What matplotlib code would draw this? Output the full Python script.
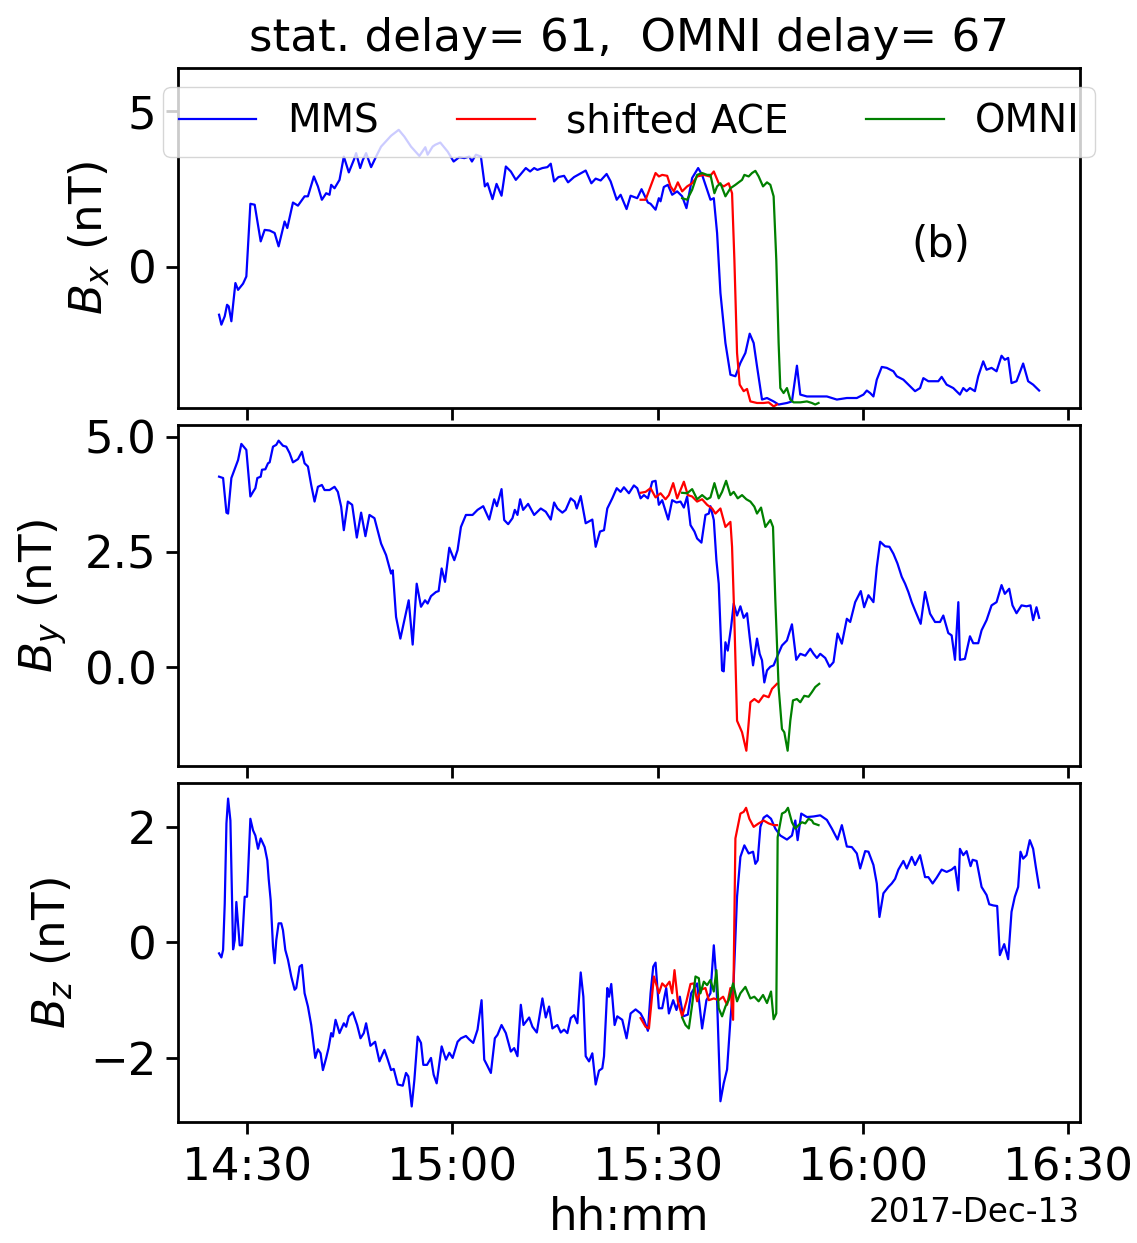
import matplotlib
matplotlib.use("Agg")
import matplotlib.pyplot as plt
import matplotlib.dates as mdates
import numpy as np
import pandas as pd

# ---------------- data (minutes after 14:00 UT, 2017-12-13) ----------------
mms_bx_t = [25.86,26.20,26.69,27.03,27.27,27.66,28.25,28.64,29.37,29.85,30.44,31.07,31.95,32.53,33.26,33.99,34.57,35.45,35.84,36.67,
            37.40,38.37,38.86,39.73,40.32,40.90,41.53,42.02,42.26,42.75,43.48,44.11,44.84,45.57,45.91,46.50,46.89,47.37,48.10,48.83,
            49.56,51.02,52.14,52.97,53.94,55.16,56.03,56.37,57.10,57.49,58.22,59.30,60.17,61.00,61.73,62.46,62.85,63.43,64.16,64.74,
            65.13,65.86,66.45,67.18,67.81,68.54,69.27,69.90,70.73,71.36,71.95,72.43,73.16,73.89,74.38,74.87,75.50,76.33,76.91,77.79,
            79.49,80.32,80.95,81.68,82.55,83.14,84.03,84.60,85.47,86.06,87.03,87.66,88.59,88.98,89.71,90.19,90.44,90.92,91.51,
            92.14,92.87,93.60,94.23,95.06,95.94,96.52,97.25,97.74,98.23,98.71,99.20,99.93,100.66,101.39,102.12,102.85,103.48,104.06,104.55,
            105.28,106.01,106.98,107.71,108.93,109.66,110.39,110.88,111.85,113.31,114.77,116.23,117.69,119.15,120.12,120.61,121.10,121.58,122.07,122.80,
            123.53,124.50,124.99,125.96,126.94,127.67,128.40,128.88,129.61,130.34,131.07,131.56,132.29,133.26,133.99,134.23,134.72,135.21,135.70,136.42,
            136.91,137.64,138.13,138.86,139.59,140.32,140.80,141.29,141.78,142.51,143.48,144.21,144.94,145.82]
mms_bx = [-1.55,-1.87,-1.60,-1.23,-1.28,-1.76,-0.53,-0.75,-0.55,-0.32,2.02,1.99,0.81,1.18,1.16,1.08,0.65,1.45,1.24,2.06,
          1.96,2.26,2.26,2.90,2.58,2.15,2.36,2.31,2.63,2.52,2.79,3.54,3.03,3.43,3.65,3.17,3.43,3.65,3.20,3.54,
          3.86,4.21,4.40,4.18,3.86,3.56,3.84,3.60,3.86,3.92,3.99,3.70,3.38,3.52,3.49,3.54,3.38,3.60,3.54,2.58,
          2.68,2.17,2.66,2.28,3.22,3.06,2.79,2.95,3.17,3.06,3.17,3.11,3.17,3.20,3.31,2.74,2.88,2.92,2.71,2.88,
          3.09,2.68,2.83,2.77,2.98,2.74,2.15,2.31,1.85,2.28,2.20,2.49,2.06,2.02,1.83,2.20,2.10,2.56,2.63,
          2.31,2.42,2.26,1.88,2.85,3.17,2.95,2.47,2.15,2.20,1.08,-0.85,-2.46,-3.48,-3.53,-3.10,-2.78,-2.16,-2.46,-3.21,
          -4.28,-4.23,-4.34,-4.44,-4.39,-4.34,-3.19,-4.12,-4.18,-4.18,-4.18,-4.28,-4.23,-4.23,-4.12,-3.99,-4.07,-4.18,-3.64,-3.23,
          -3.26,-3.37,-3.53,-3.64,-3.85,-4.01,-3.91,-3.59,-3.69,-3.69,-3.69,-3.55,-3.80,-3.91,-4.07,-4.12,-3.91,-4.01,-3.91,-4.01,
          -3.53,-3.05,-3.32,-3.26,-3.37,-2.87,-3.00,-2.94,-3.75,-3.69,-3.12,-3.69,-3.80,-3.99]

ace_bx_t = [87.52,88.25,88.98,89.71,90.20,90.68,91.41,91.90,92.39,92.97,93.60,94.33,95.06,95.79,96.77,97.64,98.23,98.95,99.68,100.41,
            100.90,101.24,101.63,102.02,102.60,103.09,103.58,104.55,105.52,106.25,106.98,107.47]
ace_bx = [2.15,2.15,2.58,3.01,2.90,2.95,2.92,2.58,2.42,2.71,2.42,2.58,2.68,2.90,2.95,2.90,3.06,2.68,2.58,2.68,
          2.36,0.22,-2.78,-3.80,-4.01,-3.94,-4.34,-4.39,-4.39,-4.37,-4.50,-4.44]

omni_bx_t = [93.60,94.33,95.06,95.79,96.52,97.25,97.74,98.32,98.71,99.20,99.93,100.66,101.39,101.87,102.36,102.70,103.33,103.82,104.31,104.79,
             105.43,106.01,106.50,106.98,107.37,107.71,107.96,108.44,108.93,109.42,109.90,110.88,111.85,112.58,113.07,113.55]
omni_bx = [2.20,2.15,2.47,2.95,3.01,2.95,2.95,2.36,2.58,2.68,2.26,2.52,2.63,2.71,2.79,2.95,2.90,3.01,3.08,2.90,
           2.58,2.71,2.63,2.26,0.22,-2.46,-3.91,-4.07,-3.91,-4.28,-4.37,-4.37,-4.34,-4.39,-4.44,-4.39]

mms_by_t = [25.86,26.45,26.94,27.18,27.66,28.39,28.64,29.12,29.85,30.44,30.83,31.17,31.46,31.95,32.14,32.63,33.02,33.26,33.75,34.23,
            34.57,35.21,35.69,36.18,36.67,37.40,37.98,38.37,38.86,39.34,39.83,40.32,40.90,41.29,42.02,42.75,43.24,43.72,44.11,44.70,
            45.33,46.01,46.64,47.27,47.86,48.59,49.56,50.29,51.02,51.27,51.75,52.38,52.97,53.60,54.18,54.77,55.40,55.99,56.37,56.86,
            57.59,57.98,58.42,58.91,59.54,60.27,60.75,61.24,61.97,62.94,63.67,64.50,65.38,66.11,66.50,67.18,67.57,68.15,68.78,69.12,
            69.51,69.90,70.34,71.07,71.95,72.92,73.65,74.38,74.87,75.35,76.08,76.57,77.30,77.88,78.18,78.76,79.49,80.46,80.95,81.58,
            82.17,82.65,83.38,84.03,84.60,85.08,85.81,86.54,87.03,87.52,88.01,88.59,89.22,89.71,90.19,90.68,91.56,
            92.14,92.77,93.36,93.85,94.33,94.82,95.40,95.79,96.42,97.01,97.50,97.74,98.23,98.61,98.95,99.44,99.68,99.93,100.27,
            100.76,101.14,101.63,102.12,102.60,103.09,103.48,103.97,104.55,104.94,105.28,105.62,106.01,106.50,106.98,107.47,108.20,108.93,109.66,110.29,
            110.88,111.61,112.34,112.82,113.31,113.80,114.53,115.16,115.74,116.33,116.96,117.69,118.18,118.91,119.73,120.22,120.85,121.58,122.07,122.56,
            123.29,123.92,124.50,125.09,125.72,126.21,126.69,127.18,127.67,128.49,129.13,129.86,130.59,131.32,131.80,132.53,133.02,133.51,134.00,134.23,
            134.96,135.70,136.18,136.91,137.40,138.13,138.86,139.59,140.32,140.80,141.44,141.92,142.51,143.24,143.97,144.55,144.94,145.43,145.82]
mms_by = [4.13,4.10,3.35,3.33,4.10,4.39,4.49,4.84,4.71,3.70,3.80,3.88,4.10,4.13,4.28,4.29,4.42,4.44,4.78,4.82,
          4.91,4.80,4.78,4.64,4.44,4.51,4.67,4.42,4.35,3.95,3.59,3.91,3.95,3.84,3.84,3.91,3.80,3.48,2.97,3.59,
          3.52,2.81,3.35,2.84,3.30,3.23,2.68,2.43,2.03,2.10,1.09,0.62,1.02,1.45,0.49,1.81,1.31,1.45,1.38,1.54,
          1.63,1.65,2.14,1.85,2.59,2.32,2.54,3.04,3.30,3.30,3.41,3.49,3.20,3.64,3.49,3.86,3.19,3.10,3.23,3.41,
          3.30,3.64,3.41,3.54,3.30,3.44,3.37,3.20,3.57,3.44,3.35,3.41,3.66,3.59,3.44,3.71,3.12,3.20,2.61,2.94,
          2.97,3.44,3.66,3.88,3.80,3.90,3.77,3.94,3.88,3.66,3.73,3.66,4.02,4.04,3.52,3.62,3.20,
          3.62,3.57,3.59,3.46,3.70,3.08,2.94,2.79,2.70,3.30,3.33,3.49,3.19,2.32,1.81,-0.07,-0.09,0.54,0.36,
          0.87,1.38,1.12,1.32,1.07,1.17,0.65,0.04,0.62,0.29,0.15,-0.33,-0.07,0.01,0.04,0.22,0.47,0.58,0.93,0.16,
          0.29,0.25,0.40,0.29,0.20,0.29,0.20,0.01,0.11,0.73,0.51,1.05,0.98,1.41,1.65,1.30,1.56,1.41,2.17,2.72,
          2.62,2.61,2.46,2.25,1.96,1.81,1.63,1.41,1.23,0.94,1.63,1.16,0.98,0.98,1.12,0.74,0.69,0.16,1.41,0.16,
          0.18,0.67,0.52,0.52,0.80,1.02,1.34,1.41,1.78,1.59,1.70,1.34,1.17,1.34,1.32,1.34,1.02,1.30,1.07]

ace_by_t = [87.52,88.25,88.98,89.71,90.44,91.17,91.66,92.29,92.87,93.85,94.43,95.06,95.79,96.52,97.25,97.98,98.47,99.20,99.93,100.66,
            100.90,101.24,101.63,102.36,102.99,103.58,104.16,104.79,105.52,106.25,106.74,107.47]
ace_by = [3.78,3.80,3.88,3.68,3.77,3.64,3.73,3.99,3.66,4.02,3.73,3.70,3.59,3.64,3.52,3.44,3.33,3.44,3.04,3.15,
          2.61,1.02,-1.16,-1.41,-1.81,-0.76,-0.69,-0.76,-0.61,-0.65,-0.47,-0.36]

omni_by_t = [93.60,94.33,95.06,95.79,96.52,97.25,97.74,98.32,98.95,99.44,100.03,100.66,101.14,101.73,102.36,102.99,103.58,104.16,104.55,105.14,
             105.77,106.50,106.89,107.23,107.71,108.20,108.54,109.03,109.42,109.81,110.39,110.88,111.46,112.09,112.58,113.07,113.65]
omni_by = [3.78,3.77,3.86,3.64,3.73,3.64,3.68,3.99,3.66,3.80,4.04,3.73,3.80,3.66,3.73,3.64,3.59,3.48,3.33,3.46,
           3.04,3.19,3.04,1.45,-0.43,-1.34,-1.41,-1.81,-1.16,-0.72,-0.69,-0.76,-0.62,-0.64,-0.54,-0.43,-0.36]

mms_bz_t = [25.86,26.20,26.45,26.69,26.94,27.18,27.52,27.91,28.15,28.39,28.88,29.22,29.61,29.95,30.44,30.83,31.17,31.56,31.95,32.53,
            32.92,33.12,33.41,33.75,33.99,34.23,34.57,34.96,35.21,35.55,35.94,36.42,36.91,37.15,37.64,37.98,38.37,38.86,39.34,39.93,
            40.32,40.71,41.05,41.53,41.87,42.26,42.51,42.90,43.48,44.11,44.45,44.84,45.43,46.06,46.55,47.03,47.37,48.00,48.69,49.32,
            50.05,50.54,51.02,51.41,52.00,52.73,53.21,53.55,54.04,54.43,54.91,55.40,55.74,56.28,56.86,57.25,57.69,58.42,59.05,59.54,
            60.03,60.75,61.24,61.97,62.46,63.04,63.67,64.26,64.65,65.04,65.62,66.20,66.59,67.18,67.81,68.54,69.03,69.51,70.00,70.39,
            71.22,71.70,72.34,73.16,73.65,74.14,74.62,75.35,75.84,76.33,76.81,77.30,77.79,78.27,78.76,79.15,79.49,79.98,80.46,80.95,
            81.44,81.92,82.17,82.65,82.90,83.23,83.72,84.11,84.84,85.47,86.06,86.79,87.52,88.01,88.59,88.98,89.37,89.71,90.19,90.68,
            91.27,91.66,92.29,92.77,93.26,93.75,94.43,94.92,95.40,95.79,96.52,97.15,97.74,98.23,98.61,99.20,99.68,100.17,100.66,101.14,
            101.63,102.12,102.70,103.33,103.97,104.31,104.65,105.04,105.52,106.01,106.60,107.23,107.96,108.93,109.66,110.15,110.49,111.02,111.85,112.82,
            113.80,114.77,115.50,116.33,116.96,117.69,118.42,119.15,119.64,120.37,120.85,121.58,122.07,122.46,123.04,123.77,124.26,124.75,125.23,125.96,
            126.45,127.18,127.67,128.40,129.13,129.61,130.24,130.83,131.56,132.29,133.02,133.51,134.00,134.23,134.72,135.21,135.79,136.09,136.67,137.40,
            138.13,138.52,139.10,139.68,140.07,140.71,141.29,141.78,142.26,142.75,143.09,143.48,143.97,144.45,144.94,145.33,145.82]
mms_bz = [-0.19,-0.26,-0.13,0.67,2.06,2.49,2.11,-0.12,0.04,0.70,-0.05,-0.05,0.79,0.79,2.14,1.94,1.85,1.62,1.80,1.65,
          1.42,1.10,0.73,-0.07,-0.36,0.04,0.33,0.33,0.21,-0.13,-0.30,-0.59,-0.82,-0.79,-0.42,-0.39,-0.88,-1.11,-1.43,-2.00,
          -1.85,-1.92,-2.21,-2.00,-1.83,-1.57,-1.63,-1.34,-1.57,-1.40,-1.46,-1.28,-1.21,-1.43,-1.66,-1.57,-1.40,-1.79,-1.72,-2.06,
          -1.86,-2.03,-2.21,-2.19,-2.46,-2.48,-2.26,-2.32,-2.84,-2.38,-1.63,-1.74,-2.12,-2.12,-2.00,-2.29,-2.44,-1.80,-2.03,-1.91,
          -2.00,-1.72,-1.66,-1.62,-1.68,-1.74,-1.51,-1.00,-2.03,-2.12,-2.26,-1.66,-1.60,-1.43,-1.57,-1.89,-1.83,-1.97,-1.08,-1.43,
          -1.30,-1.46,-1.56,-0.97,-1.30,-1.11,-1.49,-1.43,-1.56,-1.51,-1.57,-1.31,-1.26,-1.40,-0.52,-0.94,-1.97,-2.06,-1.92,-2.46,
          -2.22,-2.18,-1.97,-0.79,-0.94,-0.72,-1.43,-1.28,-1.34,-1.66,-1.23,-1.16,-1.23,-1.34,-1.53,-0.88,-0.42,-0.35,-1.14,-1.14,
          -0.79,-1.23,-1.00,-1.17,-0.94,-1.28,-1.25,-0.88,-0.79,-0.71,-1.49,-1.00,-0.88,-0.05,-0.65,-2.75,-2.44,-2.20,-1.34,-0.65,
          0.79,1.48,1.68,1.54,1.57,1.36,1.42,2.00,2.16,2.20,2.14,1.97,1.85,1.78,1.85,2.11,1.77,2.23,2.17,2.18,
          2.20,2.12,1.97,1.78,2.03,1.66,1.65,1.54,1.28,1.58,1.57,1.34,1.02,0.44,0.85,0.96,1.02,1.10,1.26,1.41,
          1.28,1.48,1.34,1.51,1.13,1.13,1.02,1.12,1.26,1.22,1.26,1.31,0.90,1.62,1.51,1.58,1.32,1.43,1.41,0.96,
          0.82,0.66,0.64,0.63,-0.22,-0.03,-0.29,0.53,0.79,0.96,1.57,1.45,1.51,1.77,1.62,1.31,0.95]

ace_bz_t = [87.52,88.25,88.74,89.47,90.20,90.68,91.17,91.75,92.14,92.48,92.97,93.60,94.23,94.82,95.31,95.79,96.28,97.01,97.50,98.23,
            98.95,99.59,100.17,100.66,101.05,101.39,102.12,102.60,102.95,103.43,104.06,104.79,105.52,106.25,106.98,107.47]
ace_bz = [-1.31,-1.46,-1.49,-0.59,-0.88,-0.71,-0.77,-0.68,-0.88,-0.48,-1.02,-1.28,-1.02,-0.72,-0.71,-1.02,-0.82,-0.79,-1.00,-0.97,
          -1.00,-0.94,-1.08,-0.79,-1.34,1.80,2.23,2.26,2.33,2.14,2.00,2.06,2.11,2.06,2.03,2.03]

omni_bz_t = [93.60,94.09,94.58,95.06,95.55,96.04,96.28,96.77,97.25,97.74,98.23,98.61,98.95,99.44,99.93,100.41,101.05,101.63,102.12,102.85,
             103.58,104.16,104.79,105.43,106.01,106.60,106.98,107.37,107.57,108.20,108.69,109.08,109.66,110.15,110.63,111.12,111.61,112.09,112.58,112.82,
             113.55]
omni_bz = [-1.30,-1.43,-1.49,-1.08,-0.59,-0.62,-0.88,-0.68,-0.74,-0.65,-0.85,-0.48,-1.14,-1.28,-1.11,-1.00,-0.71,-1.02,-0.88,-0.77,
           -0.97,-0.94,-1.02,-0.91,-1.05,-0.85,-1.33,-1.23,1.82,2.23,2.26,2.33,2.08,1.97,2.03,2.08,2.06,2.14,2.11,2.06,
           2.03]

ylabels = ["$B_x$ (nT)", "$B_y$ (nT)", "$B_z$ (nT)"]
yticks = [[0, 5], [0.0, 2.5, 5.0], [-2, 0, 2]]
ylims = [(-4.55, 6.39), (-2.14, 5.25), (-3.11, 2.76)]
title = "stat. delay= 61,  OMNI delay= 67"
date_label = "2017-Dec-13"
series_names = ["MMS", "shifted ACE", "OMNI"]
colors = ["blue", "red", "green"]

base = pd.Timestamp("2017-12-13 14:00:00")
def tconv(mins):
    return (base + pd.to_timedelta(np.asarray(mins), unit="m")).to_numpy()

panels = [
    [(mms_bx_t, mms_bx), (ace_bx_t, ace_bx), (omni_bx_t, omni_bx)],
    [(mms_by_t, mms_by), (ace_by_t, ace_by), (omni_by_t, omni_by)],
    [(mms_bz_t, mms_bz), (ace_bz_t, ace_bz), (omni_bz_t, omni_bz)],
]

FS = 32.5
plt.rcParams["font.family"] = ["DejaVu Sans"]
plt.rcParams["axes.linewidth"] = 2.0

fig = plt.figure(figsize=(11.37, 12.43), dpi=100)
L, R = 0.1566, 0.950
tops = [0.9453, 0.6581, 0.3701]
bots = [0.6718, 0.3838, 0.0973]
axes = []
for i in range(3):
    ax = fig.add_axes([L, bots[i], R - L, tops[i] - bots[i]], sharex=axes[0] if axes else None)
    axes.append(ax)
    for (t, v), c, n in zip(panels[i], colors, series_names):
        ax.plot(tconv(t), v, color=c, lw=1.6, label=n)
    ax.set_ylim(*ylims[i])
    ax.set_yticks(yticks[i])
    ax.set_ylabel(ylabels[i], fontsize=FS, labelpad=11)
    ax.tick_params(axis="both", labelsize=FS, length=8.5, width=2.0)
    ax.tick_params(axis="y", pad=7)
    ax.tick_params(axis="x", pad=9)
    ax.xaxis.set_major_locator(mdates.MinuteLocator(byminute=[0, 30]))
    ax.xaxis.set_major_formatter(mdates.DateFormatter("%H:%M"))
    if i < 2:
        ax.tick_params(axis="x", labelbottom=False)

axes[0].set_title(title, fontsize=FS, pad=12)
axes[0].legend(loc="upper center", ncol=3, fontsize=28)
axes[0].text(0.845, 0.479, "(b)", transform=axes[0].transAxes, fontsize=30,
             ha="center", va="center")
axes[2].set_xlabel("hh:mm", fontsize=FS, labelpad=5)
axes[2].text(1.0, -0.268, date_label, transform=axes[2].transAxes, fontsize=23.5,
             ha="right", va="center")

fig.savefig("out.png", dpi=100)
